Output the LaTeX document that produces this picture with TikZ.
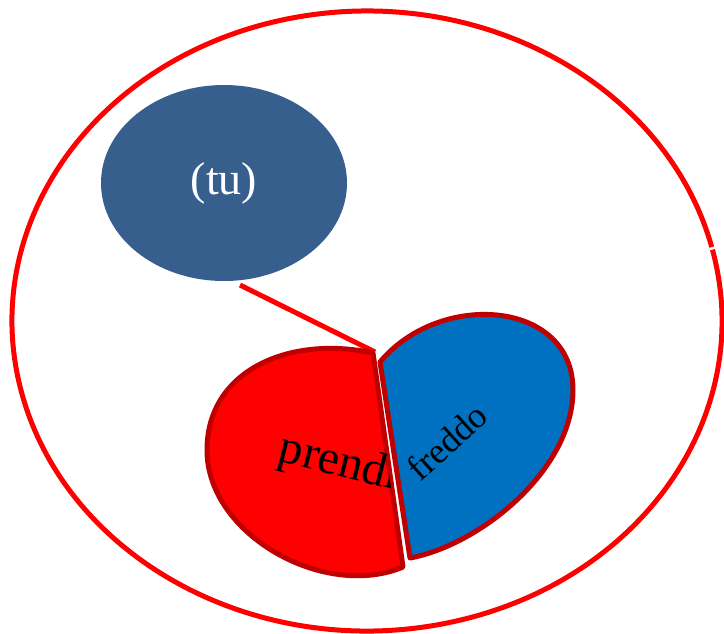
\documentclass[tikz,border=0pt]{standalone}
\usepackage{fontspec}
\setmainfont{Liberation Serif}
\usetikzlibrary{shapes.geometric}
\definecolor{tublue}{RGB}{54,95,142}
\definecolor{halfred}{RGB}{255,0,0}
\definecolor{halfblue}{RGB}{0,112,192}
\definecolor{rimred}{RGB}{192,0,0}

\begin{document}
\begin{tikzpicture}[
      x=1pt, y=-1pt,
      outer/.style={draw=red, line width=5pt},
      who/.style={
        ellipse, fill=tublue, text=white, inner sep=0pt,
        minimum width=246pt, minimum height=196pt,
        font=\fontsize{46}{48}\selectfont
      },
      half/.style={draw=rimred, line width=5pt, line join=round},
      word/.style={text=black, inner sep=0pt}
      ]
  \useasboundingbox (0,0) rectangle (724,633);

  % Outer ring (small break on the right)
  \draw[outer] (367,321) ++(-13.3:355 and 310)
    arc[start angle=-13.3, end angle=346.2, x radius=355, y radius=310];

  % Define nodes
  \node[who] (tu) at (224,183) {(tu)};
  \coordinate (linestart) at (240,285);
  \coordinate (corner) at (375,352);

  % Connect the nodes
  \draw[outer] (linestart) -- (corner);

  % Left half
  \path[half, fill=halfred]
    (373,353) -- (403,567)
    .. controls (325,600) and (207,535) .. (207,450)
    .. controls (207,370) and (290,335) .. (373,353) -- cycle;
  \begin{scope}
    \clip (373,353) -- (401,567)
      .. controls (325,600) and (207,535) .. (207,450)
      .. controls (207,370) and (290,335) .. (373,353) -- cycle;
    \node[word, rotate=-14, font=\fontsize{48}{50}\selectfont] (prendi) at (339,464) {prendi};
  \end{scope}

  % Right half
  \path[half, fill=halfblue]
    (380,362) -- (410,558)
    .. controls (480,545) and (573,470) .. (573,390)
    .. controls (573,300) and (440,290) .. (380,362) -- cycle;
  \node[word, rotate=42, font=\fontsize{36}{38}\selectfont] (freddo) at (447,442) {freddo};

\end{tikzpicture}
\end{document}
